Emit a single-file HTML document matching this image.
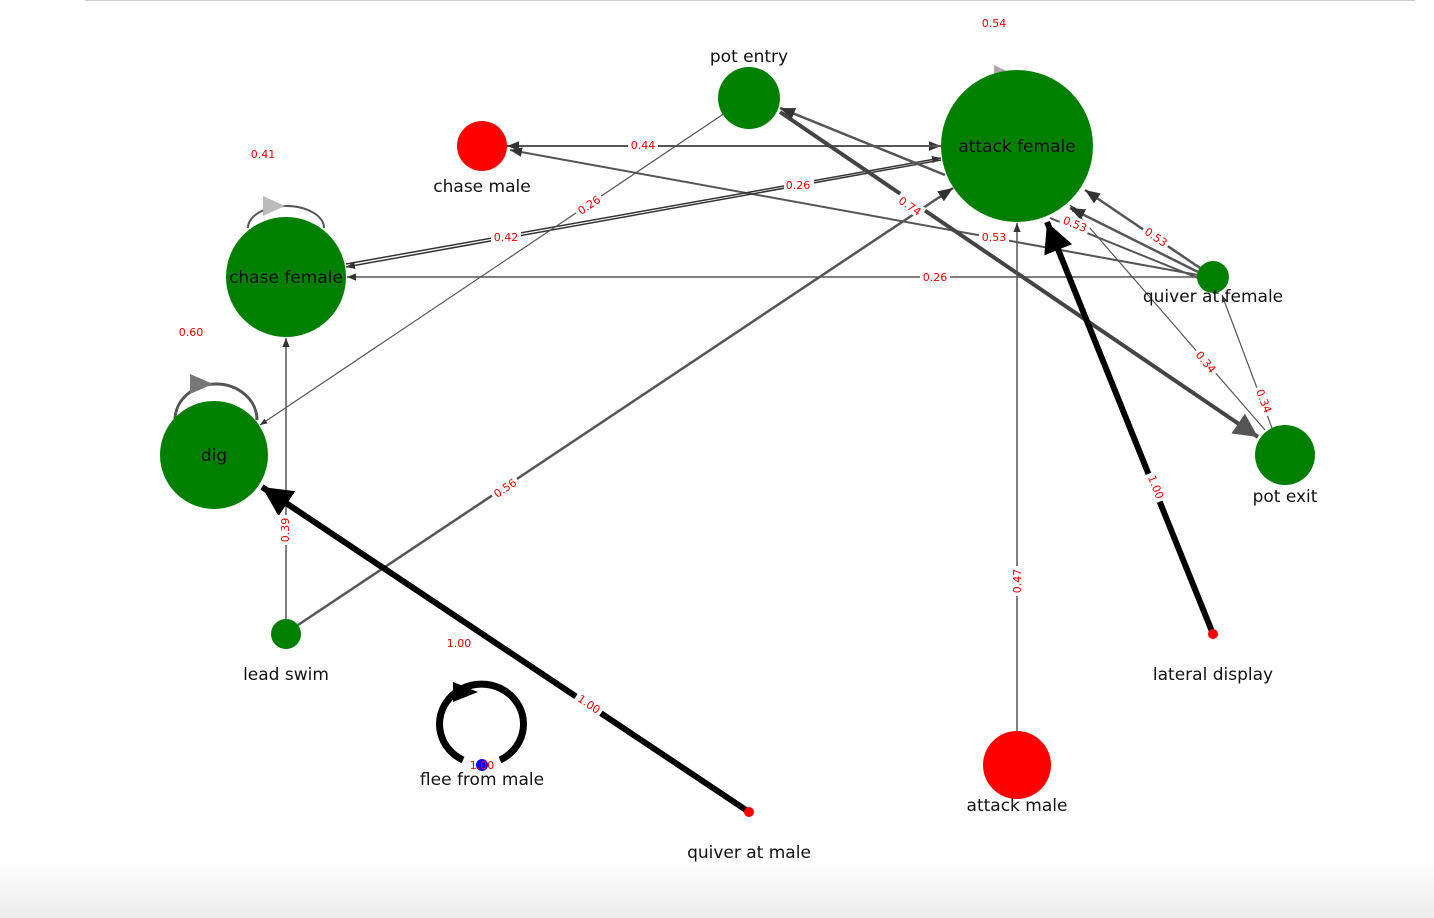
<!DOCTYPE html>
<html><head><meta charset="utf-8"><style>
html,body{margin:0;padding:0;background:#fff;}
svg{display:block;font-family:"DejaVu Sans","Liberation Sans",sans-serif;}
.l{font-size:11px;fill:#e00;text-anchor:middle;}
.n{font-size:17px;fill:#111;text-anchor:middle;}
</style></head><body>
<svg width="1434" height="918" viewBox="0 0 1434 918">
<defs>
<linearGradient id="bg" x1="0" y1="0" x2="0" y2="1"><stop offset="0" stop-color="#fff"/><stop offset="1" stop-color="#ececec"/></linearGradient>
<marker id="a" viewBox="0 0 10 10" refX="10" refY="5" markerWidth="6" markerHeight="6" orient="auto"><path d="M0,1L10,5L0,9z" fill="#333"/></marker>
<marker id="ab" viewBox="0 0 10 10" refX="10" refY="5" markerWidth="5" markerHeight="5" orient="auto"><path d="M0,0L10,5L0,10z" fill="#000"/></marker>
<marker id="ag" viewBox="0 0 10 10" refX="10" refY="5" markerWidth="6" markerHeight="6" orient="auto"><path d="M0,0L10,5L0,10z" fill="#555"/></marker>
</defs>
<rect x="0" y="860" width="1434" height="58" fill="url(#bg)"/>
<line x1="85" y1="0.5" x2="1415" y2="0.5" stroke="#ccc"/>
<g stroke="#555" fill="none" stroke-width="2">
<line x1="507" y1="146" x2="941" y2="146" marker-end="url(#a)" stroke-width="2"/>
<line x1="941" y1="146" x2="507" y2="146" marker-end="url(#a)" stroke-width="2"/>
<line x1="1198" y1="275" x2="510" y2="150" marker-end="url(#a)"/>
<line x1="1197" y1="277" x2="347" y2="277" marker-end="url(#a)" stroke-width="1.5"/>
<line x1="941" y1="160" x2="346" y2="267" marker-end="url(#a)" stroke="#333" stroke-width="1.5"/>
<line x1="346" y1="264" x2="941" y2="158" marker-end="url(#a)" stroke="#333" stroke-width="1.5"/>
<line x1="725" y1="113" x2="260" y2="425" marker-end="url(#a)" stroke-width="1.2"/>
<line x1="780" y1="112" x2="1258" y2="437" marker-end="url(#ag)" stroke-width="4" stroke="#444"/>
<line x1="945" y1="175" x2="780" y2="108" marker-end="url(#a)" stroke-width="2.5"/>
<line x1="1265" y1="430" x2="1070" y2="205" marker-end="url(#a)" stroke-width="1.2"/>
<line x1="1272" y1="428" x2="1222" y2="295" marker-end="url(#a)" stroke-width="1.2"/>
<line x1="1200" y1="268" x2="1085" y2="190" marker-end="url(#a)" stroke-width="2.5"/>
<line x1="1198" y1="272" x2="1070" y2="208" marker-end="url(#a)" stroke-width="2.5"/>
<line x1="1198" y1="278" x2="1050" y2="218" stroke-width="2"/>
<line x1="286" y1="619" x2="286" y2="338" marker-end="url(#a)" stroke-width="1.5"/>
<line x1="298" y1="625" x2="953" y2="188" marker-end="url(#a)" stroke-width="2.5"/>
<line x1="1017" y1="731" x2="1017" y2="223" marker-end="url(#a)" stroke-width="1.5"/>
<line x1="1213" y1="634" x2="1047" y2="222" marker-end="url(#ab)" stroke="#000" stroke-width="6"/>
<line x1="749" y1="812" x2="262" y2="487" marker-end="url(#ab)" stroke="#000" stroke-width="6"/>
<path d="M248,228 A38,22 0 0 1 324,228" stroke-width="2"/>
<path d="M175,420 A41,36 0 0 1 257,420" stroke-width="3"/>
<path d="M463,760 A42,40 0 1 1 500,760" stroke="#000" stroke-width="7"/>
</g>
<path d="M453,682L478,692L453,702z" fill="#000"/>
<path d="M263,196L285,206L263,216z" fill="#bbb"/>
<path d="M190,374L213,384L190,394z" fill="#777"/>
<path d="M994,65L1015,75L994,85z" fill="#aaa"/>
<circle cx="749" cy="98" r="31" fill="#007f00"/>
<circle cx="1017" cy="146" r="76" fill="#007f00"/>
<circle cx="482" cy="146" r="25" fill="#ff0000"/>
<circle cx="286" cy="277" r="60" fill="#007f00"/>
<circle cx="214" cy="455" r="54" fill="#007f00"/>
<circle cx="1213" cy="277" r="16" fill="#007f00"/>
<circle cx="1285" cy="455" r="30" fill="#007f00"/>
<circle cx="286" cy="634" r="15" fill="#007f00"/>
<circle cx="1213" cy="634" r="5" fill="#ff0000"/>
<circle cx="1017" cy="765" r="34" fill="#ff0000"/>
<circle cx="749" cy="812" r="5" fill="#ff0000"/>
<circle cx="482" cy="765" r="6" fill="#0000ff"/>
<g class="n">
<text x="749" y="62">pot entry</text>
<text x="1017" y="152">attack female</text>
<text x="482" y="192">chase male</text>
<text x="286" y="283">chase female</text>
<text x="214" y="461">dig</text>
<text x="1213" y="302">quiver at female</text>
<text x="1285" y="502">pot exit</text>
<text x="286" y="680">lead swim</text>
<text x="1213" y="680">lateral display</text>
<text x="1017" y="811">attack male</text>
<text x="749" y="858">quiver at male</text>
<text x="482" y="785">flee from male</text>
</g>
<g class="l">
<text x="994" y="27">0.54</text>
<text x="263" y="158">0.41</text>
<text x="191" y="336">0.60</text>
<text x="459" y="647">1.00</text>
<rect x="628" y="139" width="30" height="13" fill="#fff"/><text x="643" y="149">0.44</text>
<rect x="491" y="231" width="30" height="13" fill="#fff"/><text x="506" y="241">0.42</text>
<rect x="784" y="179" width="30" height="13" fill="#fff"/><text x="798" y="189">0.26</text>
<rect x="979" y="231" width="30" height="13" fill="#fff"/><text x="994" y="241">0.53</text>
<rect x="920" y="271" width="30" height="13" fill="#fff"/><text x="935" y="281">0.26</text>
<g transform="translate(589,205) rotate(-34)"><rect x="-15" y="-7" width="30" height="13" fill="#fff"/><text y="4">0.26</text></g>
<g transform="translate(910,206) rotate(34)"><rect x="-15" y="-7" width="30" height="13" fill="#fff"/><text y="4">0.74</text></g>
<g transform="translate(1075,224) rotate(22)"><rect x="-15" y="-7" width="30" height="13" fill="#fff"/><text y="4">0.53</text></g>
<g transform="translate(1156,237) rotate(34)"><rect x="-15" y="-7" width="30" height="13" fill="#fff"/><text y="4">0.53</text></g>
<g transform="translate(1206,362) rotate(50)"><rect x="-15" y="-7" width="30" height="13" fill="#fff"/><text y="4">0.34</text></g>
<g transform="translate(1264,401) rotate(68)"><rect x="-15" y="-7" width="30" height="13" fill="#fff"/><text y="4">0.34</text></g>
<g transform="translate(505,488) rotate(-34)"><rect x="-15" y="-7" width="30" height="13" fill="#fff"/><text y="4">0.56</text></g>
<g transform="translate(285,530) rotate(-90)"><rect x="-15" y="-7" width="30" height="13" fill="#fff"/><text y="4">0.39</text></g>
<g transform="translate(1017,581) rotate(-90)"><rect x="-15" y="-7" width="30" height="13" fill="#fff"/><text y="4">0.47</text></g>
<g transform="translate(1156,487) rotate(68)"><rect x="-15" y="-7" width="30" height="13" fill="#fff"/><text y="4">1.00</text></g>
<g transform="translate(589,704) rotate(34)"><rect x="-15" y="-7" width="30" height="13" fill="#fff"/><text y="4">1.00</text></g>
<text x="482" y="769">1.00</text>
</g>
</svg>
</body></html>
